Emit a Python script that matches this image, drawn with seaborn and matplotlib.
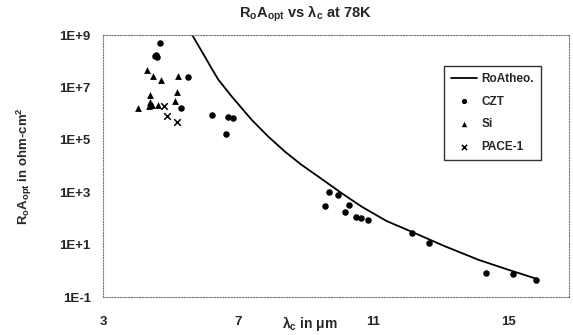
import numpy as np
import pandas as pd
import matplotlib
matplotlib.use("Agg")
import matplotlib.pyplot as plt
import seaborn as sns

# ---- data ----
theo_x = [5.45, 5.62, 6.00, 6.21, 6.41, 6.81, 7.40, 7.90, 8.39, 8.88, 9.38, 10.07,
          10.66, 11.40, 12.14, 13.10, 14.13, 15.00, 15.81]
theo_y = [3.2e9, 1.1e9, 1.6e8, 5.4e7, 2.0e7, 4.5e6, 5.8e5, 1.3e5, 3.5e4, 1.1e4, 3.9e3, 910,
          280, 79, 31, 8.9, 2.6, 1.1, 0.51]

czt_x = [4.68, 4.53, 4.57, 4.60, 5.52, 5.32, 6.21, 6.71, 6.86, 6.64, 9.68, 9.95, 9.58,
         10.27, 10.17, 10.50, 10.63, 10.86, 12.15, 12.66, 14.34, 15.14, 15.81]
czt_y = [5.0e8, 1.6e8, 1.8e8, 1.4e8, 2.5e7, 1.7e6, 8.9e5, 7.6e5, 6.8e5, 1.7e5, 1000, 780, 310,
         320, 180, 110, 105, 87, 27, 12, 0.8, 0.76, 0.45]

si_x = [4.31, 4.49, 4.72, 5.21, 5.20, 5.12, 4.04, 4.38, 4.40, 4.37, 4.45, 4.62]
si_y = [4.5e7, 2.7e7, 1.9e7, 2.8e7, 6.6e6, 3.1e6, 1.6e6, 5.0e6, 2.8e6, 2.0e6, 2.2e6, 2.2e6]

pace_x = [4.80, 4.90, 5.18]
pace_y = [2.0e6, 8.1e5, 4.8e5]

x_ticks = [3, 7, 11, 15]
y_ticks = [1e-1, 1e1, 1e3, 1e5, 1e7, 1e9]
y_tick_labels = ["1E-1", "1E+1", "1E+3", "1E+5", "1E+7", "1E+9"]

# ---- styling ----
sns.set_theme(style="white")
plt.rcParams['font.family'] = ['Liberation Sans', 'DejaVu Sans']
plt.rcParams['font.weight'] = 'bold'
plt.rcParams['mathtext.fontset'] = 'custom'
plt.rcParams['mathtext.rm'] = 'Liberation Sans:bold'
plt.rcParams['mathtext.it'] = 'Liberation Sans:bold'
plt.rcParams['mathtext.bf'] = 'Liberation Sans:bold'
plt.rcParams['mathtext.default'] = 'rm'

fig = plt.figure(figsize=(5.73, 3.35), dpi=100)
ax = fig.add_axes([0.180, 0.1134, 0.813, 0.7821])

theo_df = pd.DataFrame({"x": theo_x, "y": theo_y})
sns.lineplot(data=theo_df, x="x", y="y", ax=ax, color="black", lw=1.3,
             label="RoAtheo.", sort=False)

czt_df = pd.DataFrame({"x": czt_x, "y": czt_y})
si_df = pd.DataFrame({"x": si_x, "y": si_y})
pace_df = pd.DataFrame({"x": pace_x, "y": pace_y})
sns.scatterplot(data=czt_df, x="x", y="y", ax=ax, marker="o", color="black",
                s=22, edgecolor="black", linewidth=0, label="CZT")
sns.scatterplot(data=si_df, x="x", y="y", ax=ax, marker="^", color="black",
                s=24, edgecolor="black", linewidth=0, label="Si")
sns.scatterplot(data=pace_df, x="x", y="y", ax=ax, marker="x", color="black",
                s=22, linewidth=1.1, label="PACE-1")

ax.set_yscale("log")
ax.set_xlim(3, 16.8)
ax.set_ylim(1e-1, 1e9)
ax.set_xticks(x_ticks)
ax.set_xticklabels([str(v) for v in x_ticks], fontsize=9.5, fontweight='bold')
ax.set_yticks(y_ticks)
ax.set_yticklabels(y_tick_labels, fontsize=9.5, fontweight='bold')
ax.yaxis.set_minor_locator(matplotlib.ticker.NullLocator())
ax.tick_params(axis='x', length=0, pad=14)
ax.tick_params(axis='y', length=0, pad=9)
ax.set_xlabel("")
ax.set_ylabel("")
for sp in ax.spines.values():
    sp.set_linestyle((0, (1, 1.5)))
    sp.set_color("#777777")
    sp.set_linewidth(0.8)

leg = ax.legend(loc="upper right", bbox_to_anchor=(0.953, 0.905), fontsize=8.5,
                frameon=True, fancybox=False, edgecolor="black", borderpad=0.6,
                labelspacing=0.9, handlelength=2.2, handletextpad=0.4,
                markerscale=0.8)
leg.get_frame().set_linewidth(1.0)
for t in leg.get_texts():
    t.set_fontweight('bold')

fig.text(0.534, 0.958, r"R$_{o}$A$_{opt}$ vs $\lambda_{c}$ at 78K", ha="center", va="center",
         fontsize=10.5, fontweight='bold')
fig.text(0.541, 0.035, r"$\lambda_{c}$ in $\mu$m", ha="center", va="center",
         fontsize=10, fontweight='bold')
fig.text(0.042, 0.505, r"R$_{o}$A$_{opt}$ in ohm-cm$^{2}$", ha="center", va="center",
         rotation=90, fontsize=9.5, fontweight='bold')

fig.savefig("out.png", dpi=100)
